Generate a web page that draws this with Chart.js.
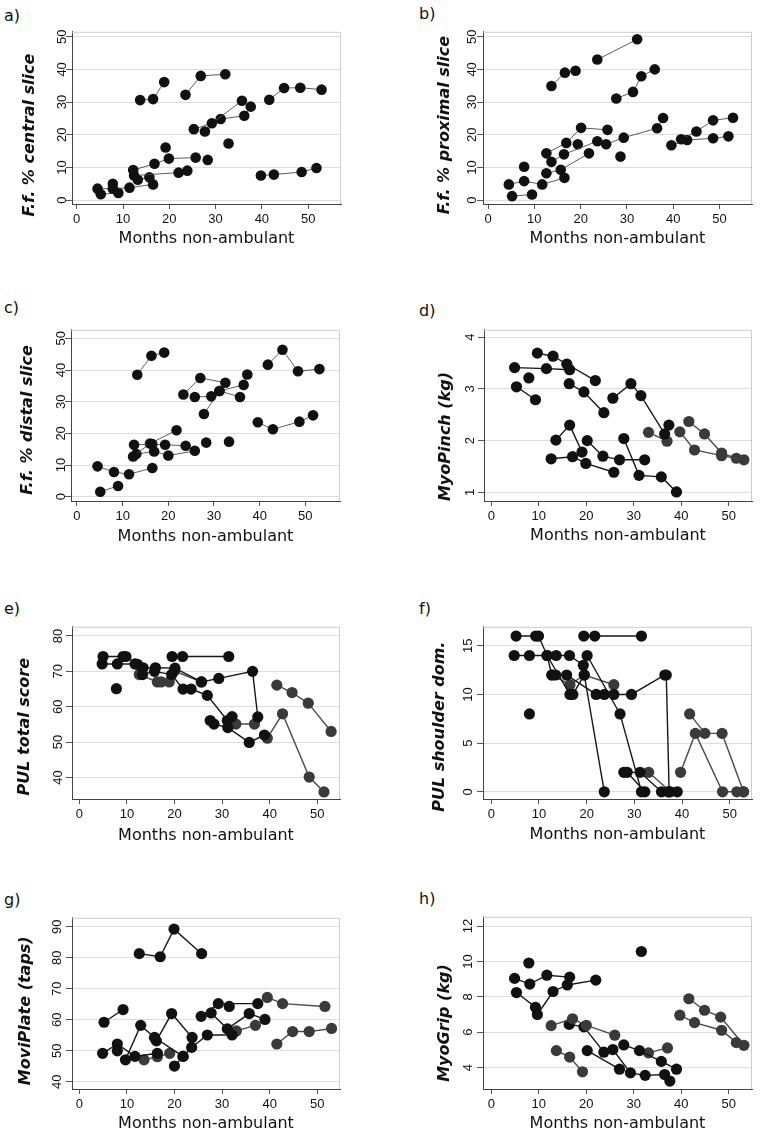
<!DOCTYPE html>
<html>
<head>
<meta charset="utf-8">
<script src="https://cdn.jsdelivr.net/npm/chart.js@4.4.1/dist/chart.umd.min.js"></script>
<style>
  body { margin: 0; background: #fff; width: 766px; height: 1139px; position: relative; overflow: hidden; font-family: "DejaVu Sans", sans-serif; }
  canvas { position: absolute; }
  .lab { position: absolute; font-size: 16px; line-height: 16px; color: #111; }
</style>
</head>
<body>
<script>
// tick labels
const monthTicks = [0, 10, 20, 30, 40, 50];
const ffTicks = [0, 10, 20, 30, 40, 50];
const pinchTicks = [1, 2, 3, 4];
const pulTotalTicks = [40, 50, 60, 70, 80];
const shoulderTicks = [0, 5, 10, 15];
const plateTicks = [40, 50, 60, 70, 80, 90];
const gripTicks = [4, 6, 8, 10, 12];

// one list of [months, value] per patient
const centralSlice = [
  [[13.7, 30.6], [16.5, 30.9], [18.9, 36.1]],
  [[23.5, 32.2], [26.8, 38.0], [32.1, 38.5]],
  [[41.6, 30.7], [44.8, 34.3], [48.3, 34.4], [52.9, 33.8]],
  [[25.3, 21.7], [29.2, 23.5], [35.7, 30.4]],
  [[27.7, 21.0], [31.1, 24.8], [36.2, 25.8], [37.6, 28.6]],
  [[19.2, 16.1]],
  [[32.8, 17.3]],
  [[28.3, 12.3]],
  [[12.2, 9.2], [16.8, 11.1], [19.9, 12.7], [25.7, 13.0]],
  [[12.4, 7.5], [22.0, 8.4], [23.9, 9.0]],
  [[13.2, 6.2], [15.7, 7.0]],
  [[4.5, 3.5], [7.8, 3.5], [11.4, 3.8], [16.5, 4.8]],
  [[5.2, 1.8], [9.0, 2.2]],
  [[7.8, 5.0]],
  [[39.8, 7.5], [42.6, 7.8], [48.6, 8.6], [51.8, 9.8]]
];
const centralGrey = [];

const proximalSlice = [
  [[13.7, 34.9], [16.6, 39.0], [18.9, 39.6]],
  [[23.6, 43.0], [32.2, 49.2]],
  [[27.7, 31.1], [31.3, 33.1], [33.1, 37.9], [36.0, 40.0]],
  [[12.6, 14.3], [16.9, 17.5], [20.1, 22.1], [25.8, 21.5]],
  [[13.7, 11.7], [16.4, 14.0], [23.6, 18.0]],
  [[19.4, 17.1]],
  [[25.5, 17.1], [29.3, 19.1], [36.5, 22.0], [37.8, 25.1]],
  [[12.6, 8.2], [15.7, 9.3], [21.8, 14.3]],
  [[4.5, 4.8], [7.8, 5.8], [11.7, 4.8], [16.5, 6.8]],
  [[7.8, 10.2]],
  [[5.2, 1.2], [9.5, 1.7]],
  [[28.6, 13.3]],
  [[41.7, 18.6], [45.0, 21.0], [48.6, 24.4], [52.9, 25.2]],
  [[39.6, 16.8], [43.0, 18.4], [48.6, 18.9], [51.9, 19.5]]
];
const proximalGrey = [];

const distalSlice = [
  [[13.2, 38.5], [16.3, 44.5], [19.1, 45.5]],
  [[23.3, 32.3], [27.0, 37.5], [32.5, 36.0]],
  [[25.8, 31.5], [29.4, 31.7], [31.2, 33.4], [35.7, 31.5]],
  [[27.8, 26.1], [31.2, 33.4], [36.5, 35.3], [37.3, 38.6]],
  [[41.8, 41.7], [45.0, 46.4], [48.4, 39.6], [53.1, 40.3]],
  [[39.6, 23.5], [42.9, 21.3], [48.7, 23.7], [51.7, 25.7]],
  [[12.5, 16.4], [16.5, 16.6], [19.3, 16.4], [23.8, 16.1]],
  [[12.3, 12.7], [16.0, 16.8], [21.8, 21.0]],
  [[13.0, 13.5], [16.9, 14.3], [20.0, 13.0], [25.8, 14.5]],
  [[28.3, 17.1]],
  [[33.3, 17.4]],
  [[4.5, 9.6], [8.1, 7.8], [11.4, 7.1], [16.5, 9.1]],
  [[5.1, 1.6], [9.0, 3.4]]
];
const distalGrey = [];

const myoPinch = [
  [[9.7, 3.69], [13.0, 3.63], [15.9, 3.48], [21.9, 3.16]],
  [[4.9, 3.41], [11.6, 3.39], [16.5, 3.37]],
  [[7.9, 3.21]],
  [[5.3, 3.04], [9.3, 2.79]],
  [[16.4, 3.10], [19.5, 2.94], [23.7, 2.54]],
  [[25.6, 2.82], [29.4, 3.10], [31.5, 2.87], [36.5, 2.13], [37.4, 2.30]],
  [[33.1, 2.16], [37.0, 1.99]],
  [[13.6, 2.01], [16.5, 2.30], [19.1, 1.78]],
  [[20.2, 2.00], [23.5, 1.70], [27.0, 1.63], [32.3, 1.63]],
  [[12.6, 1.65], [17.1, 1.69], [19.9, 1.56], [25.8, 1.39]],
  [[27.9, 2.04], [31.1, 1.33], [35.8, 1.30], [39.0, 1.01]],
  [[39.7, 2.17], [42.8, 1.82], [48.5, 1.71], [53.2, 1.63]],
  [[41.6, 2.37], [44.9, 2.13], [48.5, 1.76], [51.6, 1.66]]
];
const pinchGrey = [6, 11, 12];

const pulTotal = [
  [[5.0, 74.2], [9.2, 74.2], [9.8, 74.2], [12.2, 72.0], [13.4, 71.0], [16.0, 71.0], [20.1, 70.9], [25.7, 67.0], [29.3, 68.0], [36.4, 70.0], [37.5, 57.1]],
  [[4.8, 72.1], [8.0, 72.1], [11.7, 72.1], [13.3, 69.1], [15.8, 70.0], [19.4, 69.1], [21.8, 65.0], [23.5, 65.0], [26.9, 63.2], [31.1, 56.1], [32.1, 57.2]],
  [[19.5, 74.2], [21.7, 74.2], [31.4, 74.2]],
  [[7.8, 65.1]],
  [[12.6, 69.1], [16.4, 67.0], [17.2, 67.0], [18.9, 67.0], [20.0, 70.1], [25.6, 67.0]],
  [[27.5, 56.1], [28.3, 55.1], [31.2, 54.1], [35.7, 49.9], [38.9, 52.0]],
  [[32.9, 55.1], [36.8, 55.1]],
  [[41.5, 66.1], [44.7, 64.0], [48.1, 61.0], [52.9, 53.0]],
  [[39.5, 51.1], [42.7, 58.0], [48.3, 40.1], [51.4, 35.9]]
];
const pulTotalGrey = [4, 6, 7, 8];

const pulShoulder = [
  [[5.2, 16], [9.3, 16], [9.9, 16], [11.7, 14], [16.5, 10], [17.1, 10], [19.5, 12], [23.7, 0]],
  [[4.8, 14], [8.0, 14], [11.7, 14], [12.7, 12], [13.5, 12], [15.8, 12], [22.0, 10], [23.7, 10], [25.7, 10], [29.4, 10], [36.4, 12], [36.7, 12], [37.3, 0], [39.0, 0]],
  [[13.6, 14], [16.4, 14], [19.3, 13]],
  [[20.1, 14], [27.0, 8], [31.5, 0]],
  [[12.7, 12], [16.5, 11], [19.5, 12], [25.7, 11]],
  [[19.4, 16], [21.7, 16], [31.5, 16]],
  [[8.0, 8]],
  [[27.8, 2], [31.2, 2], [35.7, 0], [37.1, 0]],
  [[28.5, 2], [32.2, 0]],
  [[33.0, 2], [37.6, 0]],
  [[39.7, 2], [42.8, 6], [48.5, 0], [51.5, 0], [52.9, 0]],
  [[41.6, 8], [44.8, 6], [48.4, 6], [52.9, 0]]
];
const shoulderGrey = [4, 9, 10, 11];

const moviPlate = [
  [[12.6, 81.3], [17.0, 80.3], [19.9, 89.2], [25.7, 81.3]],
  [[5.2, 59.2], [9.2, 63.3]],
  [[4.9, 49.2], [8.0, 52.2], [11.7, 48.2], [16.4, 49.2]],
  [[8.0, 50.0]],
  [[9.7, 47.1], [12.9, 58.2], [15.8, 54.3], [21.8, 48.2]],
  [[20.0, 45.1], [21.8, 48.2], [23.6, 51.1], [26.9, 55.1], [32.1, 55.1]],
  [[13.6, 47.1], [16.4, 48.1], [19.0, 49.2]],
  [[16.2, 53.2], [19.4, 62.0], [23.7, 54.3]],
  [[25.6, 61.1], [29.2, 65.2], [37.5, 65.2]],
  [[31.5, 64.3]],
  [[27.7, 62.2], [31.1, 57.1], [35.7, 62.0], [39.0, 60.1]],
  [[33.0, 56.4], [37.0, 58.2]],
  [[39.5, 67.2], [42.7, 65.2], [51.6, 64.3]],
  [[41.5, 52.2], [44.8, 56.2], [48.3, 56.2], [53.0, 57.2]]
];
const plateGrey = [6, 11, 12, 13];

const myoGrip = [
  [[7.9, 9.91]],
  [[31.6, 10.56]],
  [[4.9, 9.04], [8.1, 8.72], [11.7, 9.22], [16.5, 9.11]],
  [[5.3, 8.24], [9.3, 7.41], [9.7, 7.0], [13.0, 8.30], [16.0, 8.67], [22.0, 8.94]],
  [[12.6, 6.37], [17.1, 6.76], [20.0, 6.39], [26.0, 5.83]],
  [[16.4, 6.44], [19.5, 6.30], [23.7, 4.87]],
  [[13.7, 4.96], [16.5, 4.59], [19.2, 3.76]],
  [[20.2, 4.96], [27.0, 3.91]],
  [[25.6, 5.02], [29.3, 3.70], [32.4, 3.56], [36.5, 3.61], [37.6, 3.24]],
  [[27.9, 5.28], [31.2, 4.96], [35.8, 4.35], [39.0, 3.91]],
  [[33.1, 4.83], [37.1, 5.11]],
  [[39.7, 6.96], [42.8, 6.54], [48.5, 6.11], [51.6, 5.41]],
  [[41.6, 7.89], [44.9, 7.24], [48.3, 6.85], [53.2, 5.26]]
];
const gripGrey = [4, 6, 10, 11, 12];

// layout of the eight panels (plot box in page pixels, axis ranges, y-title centre)
const panels = [
  { tag: 'a)', lab: [4, 8], title: 'F.f. % central slice', series: centralSlice, grey: centralGrey, yTicks: ffTicks,
    box: [72, 29, 341, 204], x: [-1.02, 57.1], y: [-1.2, 51.5], yw: 52, xh: 44, off: 10, tc: 135, thin: true },
  { tag: 'b)', lab: [419, 6], title: 'F.f. % proximal slice', series: proximalSlice, grey: proximalGrey, yTicks: ffTicks,
    box: [483, 29, 752, 204], x: [-1.08, 57.0], y: [-1.2, 51.5], yw: 48, xh: 44, off: 10.5, tc: 125, thin: true },
  { tag: 'c)', lab: [4, 300], title: 'F.f. % distal slice', series: distalSlice, grey: distalGrey, yTicks: ffTicks,
    box: [71, 327, 340, 501], x: [-1.31, 57.6], y: [-1.34, 52.7], yw: 53, xh: 45, off: 9.5, tc: 420, thin: true },
  { tag: 'd)', lab: [419, 303], title: 'MyoPinch (kg)', series: myoPinch, grey: pinchGrey, yTicks: pinchTicks,
    box: [484, 327, 752, 501], x: [-1.54, 54.9], y: [0.835, 4.14], yw: 48, xh: 44, off: 14, tc: 436.5 },
  { tag: 'e)', lab: [4, 601], title: 'PUL total score', series: pulTotal, grey: pulTotalGrey, yTicks: pulTotalTicks,
    box: [72, 624, 340, 799], x: [-1.53, 54.77], y: [33.9, 82.6], yw: 57, xh: 46, off: 13.7, tc: 726.7 },
  { tag: 'f)', lab: [419, 601], title: 'PUL shoulder dom.', series: pulShoulder, grey: shoulderGrey, yTicks: shoulderTicks,
    box: [483, 624, 752, 799], x: [-1.74, 54.68], y: [-0.74, 16.95], yw: 53, xh: 45, off: 14.2, tc: 726.7 },
  { tag: 'g)', lab: [4, 892], title: 'MoviPlate (taps)', series: moviPlate, grey: plateGrey, yTicks: plateTicks,
    box: [72, 915, 340, 1089], x: [-1.53, 54.77], y: [37.7, 92.85], yw: 56, xh: 44, off: 14.2, tc: 1010.8 },
  { tag: 'h)', lab: [419, 891], title: 'MyoGrip (kg)', series: myoGrip, grey: gripGrey, yTicks: gripTicks,
    box: [483, 914, 752, 1089], x: [-1.75, 54.9], y: [2.79, 12.52], yw: 48, xh: 44, off: 14.7, tc: 1023 }
];

const PT = 8, PR = 8;
const tickFont = { family: '"Liberation Sans", Arial, sans-serif', size: 13 };

// light box on top/right, vertical tick labels and y title, Stata style
const stataFrame = {
  id: 'stataFrame',
  beforeDatasetsDraw(chart) {
    const { ctx, chartArea: a } = chart;
    ctx.save();
    ctx.strokeStyle = '#cdcdcd';
    ctx.lineWidth = 1;
    ctx.beginPath();
    ctx.moveTo(a.left, a.top + 0.5);
    ctx.lineTo(a.right - 0.5, a.top + 0.5);
    ctx.lineTo(a.right - 0.5, a.bottom);
    ctx.stroke();
    ctx.restore();
  },
  afterDraw(chart, args, opts) {
    const { ctx, chartArea: a } = chart;
    const ys = chart.scales.y;
    ctx.save();
    ctx.fillStyle = '#111';
    ctx.textAlign = 'center';
    ctx.textBaseline = 'middle';
    ctx.font = '13px "Liberation Sans", Arial, sans-serif';
    ys.ticks.forEach(t => {
      ctx.save();
      ctx.translate(a.left - opts.off, ys.getPixelForValue(t.value));
      ctx.rotate(-Math.PI / 2);
      ctx.fillText(t.label, 0, 0);
      ctx.restore();
    });
    ctx.font = 'italic bold 16px "DejaVu Sans", sans-serif';
    ctx.translate(9.6, opts.titleY);
    ctx.rotate(-Math.PI / 2);
    ctx.fillText(opts.title, 0, 0);
    ctx.restore();
  }
};

panels.forEach(p => {
  const [l, t, r, b] = p.box;
  const lab = document.createElement('div');
  lab.className = 'lab';
  lab.style.left = p.lab[0] + 'px';
  lab.style.top = p.lab[1] + 'px';
  lab.textContent = p.tag;
  document.body.appendChild(lab);

  const cv = document.createElement('canvas');
  cv.width = r - l + p.yw + PR;
  cv.height = b - t + PT + p.xh;
  cv.style.left = (l - p.yw) + 'px';
  cv.style.top = (t - PT) + 'px';
  document.body.appendChild(cv);

  const lineCol = p.thin ? '#4a4a4a' : '#161616';
  const lw = p.thin ? 0.9 : 1.4;
  const rad = p.thin ? 5.3 : 5.6;

  new Chart(cv, {
    type: 'scatter',
    data: {
      datasets: p.series.map((s, i) => {
        const g = p.grey.includes(i);
        return {
          data: s,
          showLine: true,
          borderColor: g ? '#4a4a4a' : lineCol,
          borderWidth: lw,
          pointRadius: rad,
          pointHoverRadius: rad,
          pointBorderWidth: 0,
          pointBackgroundColor: g ? '#3a3a3a' : '#111'
        };
      })
    },
    options: {
      responsive: false,
      animation: false,
      devicePixelRatio: 1,
      layout: { padding: { top: PT, right: PR, left: 0, bottom: 0 } },
      plugins: {
        legend: { display: false },
        tooltip: { enabled: false },
        stataFrame: { off: p.off, title: p.title, titleY: p.tc - (t - PT) }
      },
      scales: {
        x: {
          type: 'linear', min: p.x[0], max: p.x[1],
          afterBuildTicks: s => { s.ticks = monthTicks.map(v => ({ value: v })); },
          afterFit: s => { s.height = p.xh; },
          grid: { drawOnChartArea: false, tickLength: 5, tickColor: '#555' },
          border: { color: '#444', width: 1 },
          ticks: { padding: 3, font: tickFont, color: '#111', maxRotation: 0 },
          title: { display: true, text: 'Months non-ambulant', color: '#111', padding: 0,
                   font: { family: '"DejaVu Sans", sans-serif', size: 16 } }
        },
        y: {
          type: 'linear', min: p.y[0], max: p.y[1],
          afterBuildTicks: s => { s.ticks = p.yTicks.map(v => ({ value: v })); },
          afterFit: s => { s.width = p.yw; },
          grid: { color: '#dddddd', tickLength: 6, tickColor: '#555' },
          border: { color: '#444', width: 1 },
          ticks: { font: tickFont, color: 'rgba(0,0,0,0)' },
          title: { display: false }
        }
      }
    },
    plugins: [stataFrame]
  });
});
</script>
</body>
</html>
